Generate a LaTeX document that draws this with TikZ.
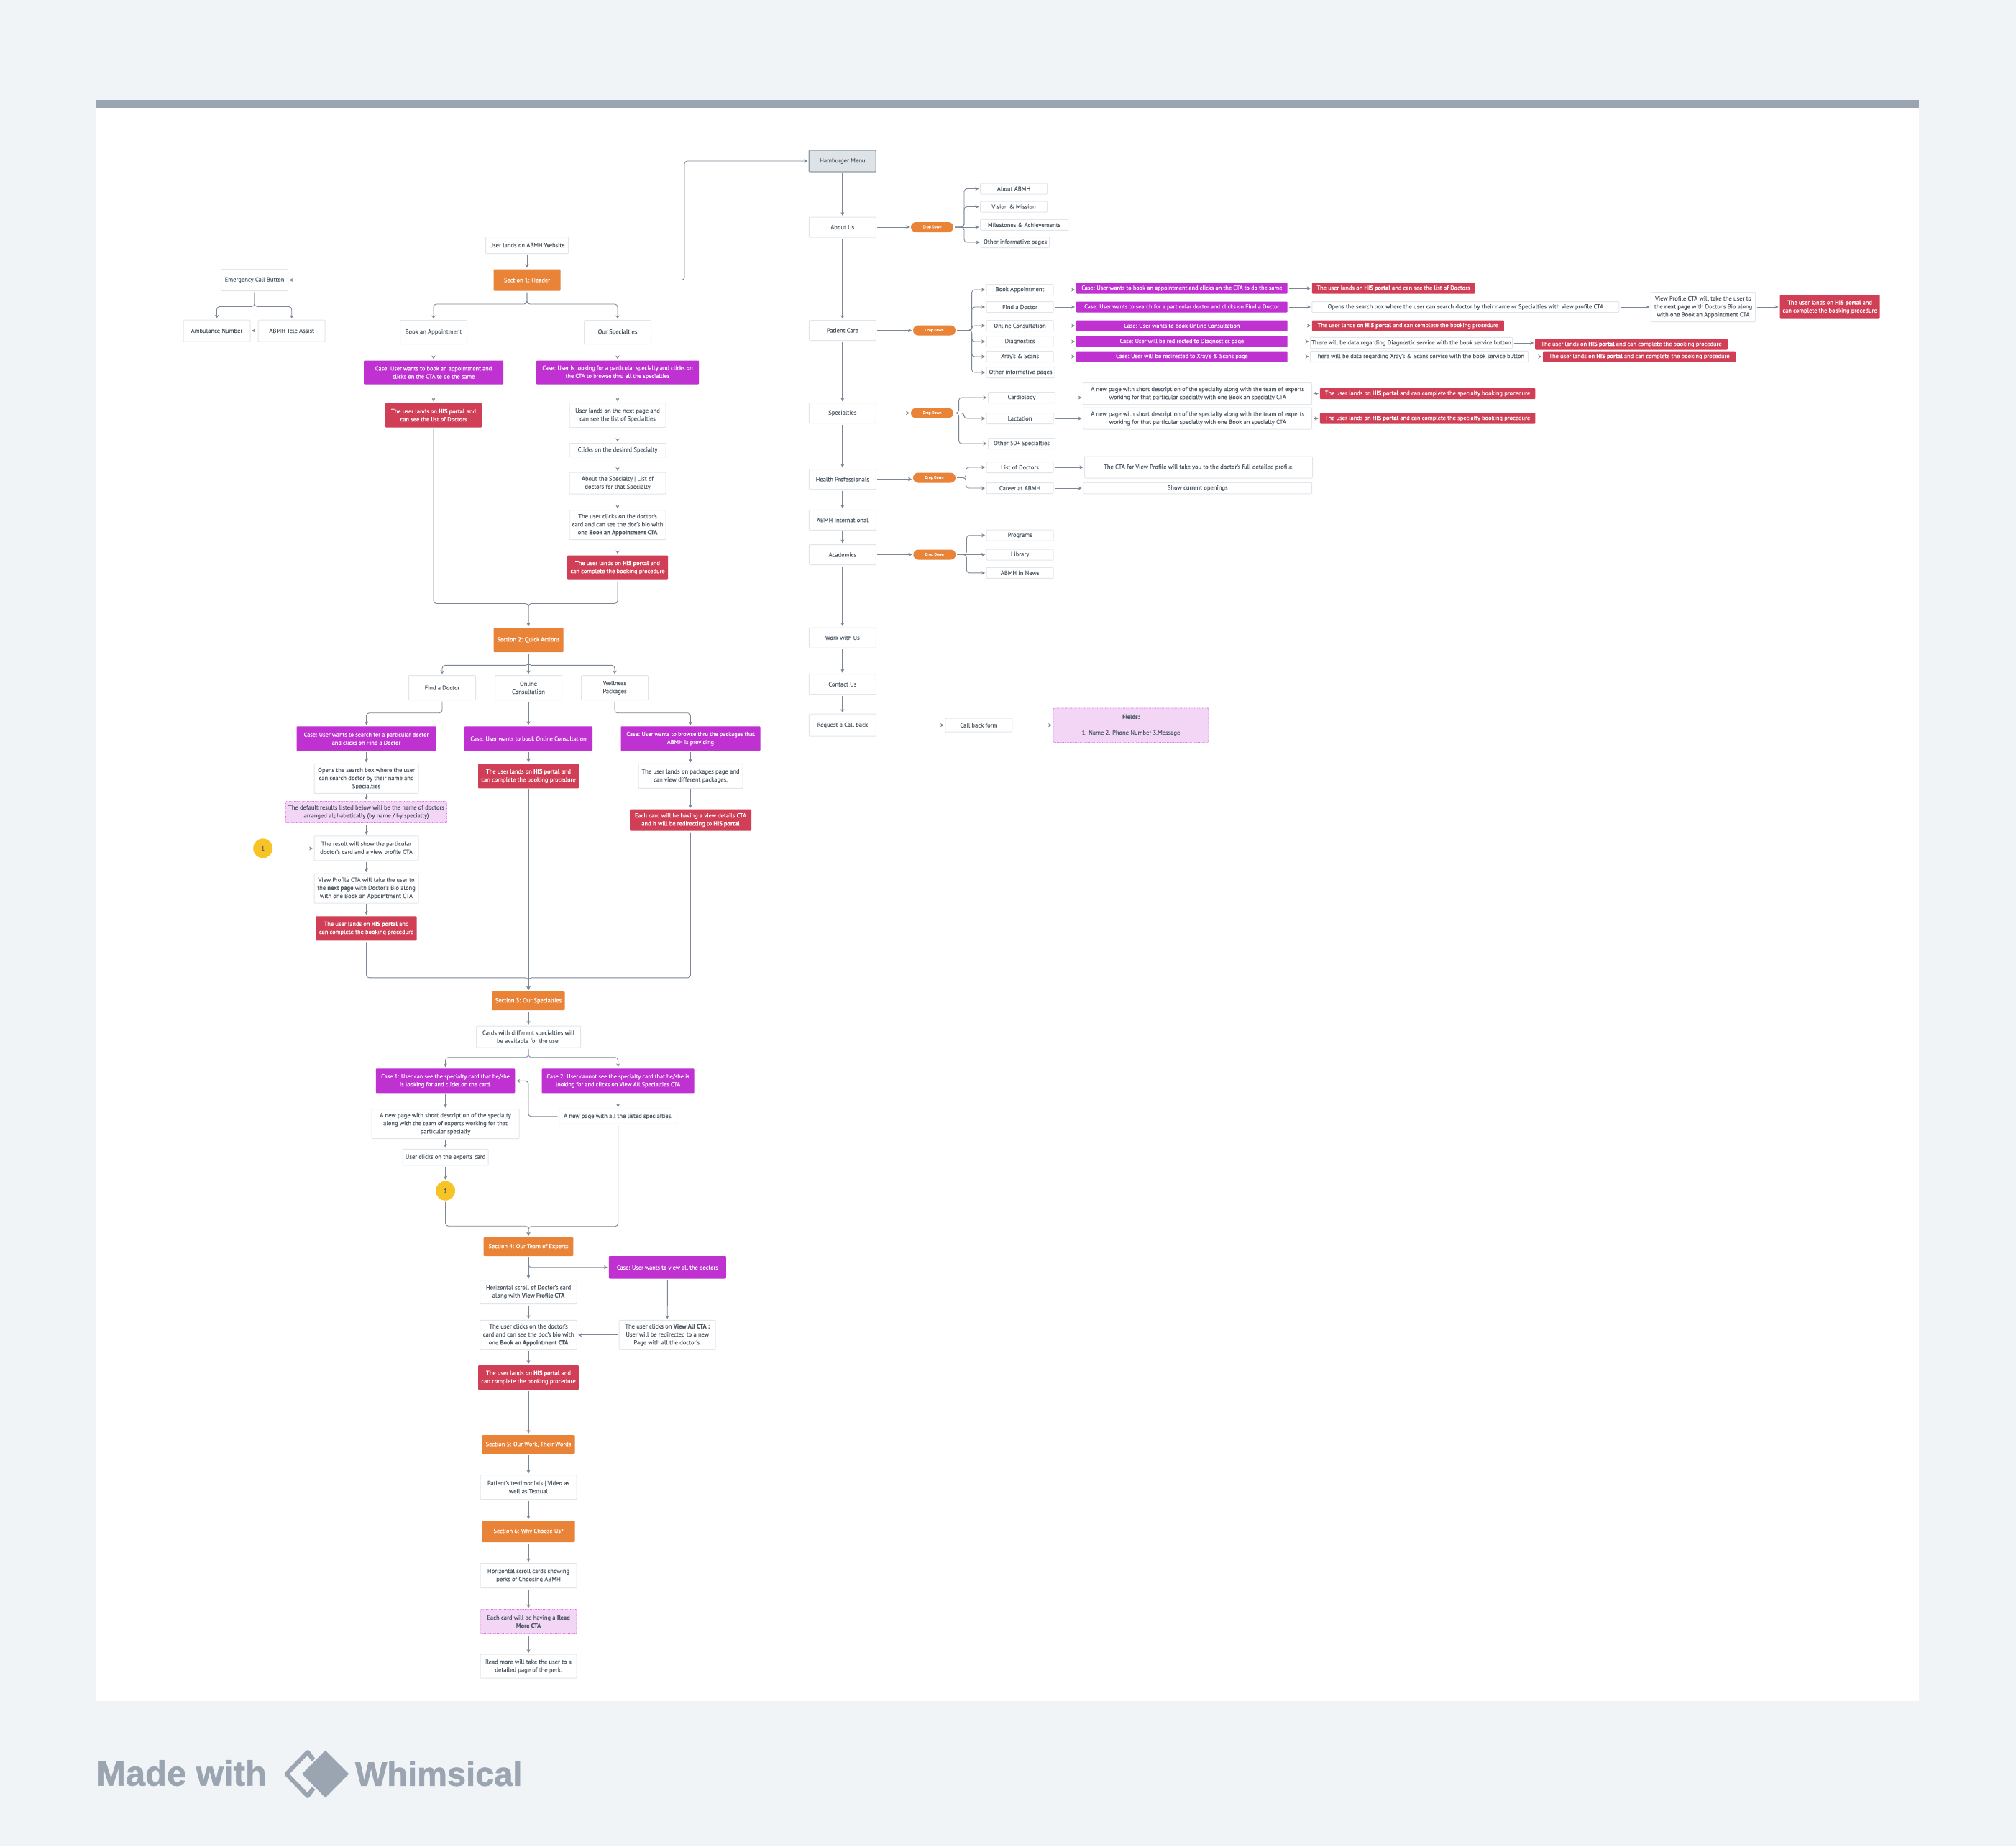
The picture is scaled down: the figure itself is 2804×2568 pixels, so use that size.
\documentclass[tikz,border=0pt]{standalone}
\usepackage{fontspec}
\setmainfont{PT Sans}[FakeBold=0.2]
\newfontfamily\medfont{PT Sans}[FakeBold=0.45]
\newfontfamily\logofont{Liberation Sans}[FakeBold=1.2]
\usetikzlibrary{positioning,arrows.meta}
\definecolor{pagebg}{HTML}{F0F4F7}
\definecolor{barcol}{HTML}{9AA5B1}
\definecolor{ink}{HTML}{4F5B67}
\definecolor{edge}{HTML}{E2E6EB}
\definecolor{wire}{HTML}{7B8794}
\definecolor{orangecol}{HTML}{E88338}
\definecolor{purplecol}{HTML}{BF31D1}
\definecolor{redcol}{HTML}{D13F57}
\definecolor{pinkcol}{HTML}{F3D6F6}
\definecolor{pinkedge}{HTML}{E064E9}
\definecolor{suncol}{HTML}{F7C325}
\definecolor{steelcol}{HTML}{DDE3E6}
\definecolor{steeledge}{HTML}{8E9CA8}
\tikzset{
  every node/.style={
    rounded corners=1pt,
    align=center,
    inner sep=0pt,
    outer sep=2pt,
    text=ink,
    font=\fontsize{8.5}{11.2}\selectfont
  },
  wbox/.style 2 args={draw=edge, line width=1pt, fill=white, minimum width=#1pt, minimum height=#2pt},
  sectbox/.style 2 args={fill=orangecol, text=white, font=\medfont\fontsize{8.4}{11.2}\selectfont, minimum width=#1pt, minimum height=#2pt},
  casebox/.style 2 args={fill=purplecol, text=white, font=\medfont\fontsize{8.25}{11.2}\selectfont, minimum width=#1pt, minimum height=#2pt},
  redbox/.style 2 args={fill=redcol, text=white, font=\medfont\fontsize{8.4}{11.2}\selectfont, minimum width=#1pt, minimum height=#2pt},
  notebox/.style 2 args={draw=pinkedge, densely dotted, line width=0.8pt, fill=pinkcol, minimum width=#1pt, minimum height=#2pt},
  menubox/.style 2 args={draw=steeledge, line width=1.2pt, fill=steelcol, minimum width=#1pt, minimum height=#2pt},
  dropbox/.style={fill=orangecol, text=white, rounded corners=7pt, minimum width=59pt, minimum height=14pt, font=\medfont\fontsize{5.4}{7}\selectfont},
  refdot/.style={circle, fill=suncol, minimum size=27pt},
  link/.style={draw=wire, line width=0.9pt, rounded corners=4pt, -{Stealth[length=5pt,width=5pt]}}
}
\begin{document}
\begin{tikzpicture}
        \useasboundingbox (0,0) rectangle (2804pt,-2568pt);
        \fill [pagebg] (0,0) rectangle (2804pt,-2568pt);
        \fill [white] (134pt,-139pt) rectangle (2669pt,-2366pt);
        \fill [barcol] (134pt,-139pt) rectangle (2669pt,-150pt);

        \node [wbox={115}{23}] (ULands) at (733pt,-341pt) {User lands on ABMH Website};
        \node [on grid, below=48.5pt of ULands, sectbox={93}{30}] (Sec1) {Section 1: Header};
        \node [on grid, left=379pt of Sec1, wbox={93}{30}] (Emerg) {Emergency Call Button};
        \node [on grid, below left=70.5pt and 52.5pt of Emerg, wbox={93}{30}] (Amb) {Ambulance Number};
        \node [on grid, below right=70.5pt and 51.7pt of Emerg, wbox={93}{30}] (Tele) {ABMH Tele Assist};
        \node [on grid, below left=72.5pt and 130pt of Sec1, wbox={93}{33}] (Book) {Book an Appointment};
        \node [on grid, below right=72.5pt and 126pt of Sec1, wbox={93}{33}] (OurSpec) {Our Specialties};
        \node [on grid, below=56pt of Book, casebox={194}{33}] (CaseBook) {Case: User wants to book an appointment and\\clicks on the CTA to do the same};
        \node [on grid, below=59.5pt of CaseBook, redbox={134}{34}] (RedBook) {The user lands on \textbf{HIS portal} and\\can see the list of Doctors};
        \node [on grid, below=56pt of OurSpec, casebox={226}{33}] (CaseSpec) {Case: User is looking for a particular specialty and clicks on\\the CTA to browse thru all the specialties};
        \node [on grid, below=59.5pt of CaseSpec, wbox={134}{34}] (NextPage) {User lands on the next page and\\can see the list of Specialties};
        \node [on grid, below=48.5pt of NextPage, wbox={134}{19}] (Clicks) {Clicks on the desired Specialty};
        \node [on grid, below=46pt of Clicks, wbox={134}{30}] (AboutSpec) {About the Specialty | List of\\doctors for that Specialty};
        \node [on grid, below=58pt of AboutSpec, wbox={134}{41}] (DocCard) {The user clicks on the doctor's\\card and can see the doc's bio with\\one \textbf{Book an Appointment CTA}};
        \node [on grid, below=59.5pt of DocCard, redbox={140}{34}] (RedSpec) {The user lands on \textbf{HIS portal} and\\can complete the booking procedure};
        \draw [link] (ULands) -- (Sec1);
        \draw [link] (Sec1) -- (Emerg);
        \draw [link] (Emerg.south) -- ++(0,-20pt) -| (Amb.north);
        \draw [link] (Emerg.south) -- ++(0,-20pt) -| (Tele.north);
        \draw [link] (Tele) -- (Amb);
        \draw [link] (Sec1.south) -- ++(0,-16.5pt) -| (Book.north);
        \draw [link] (Sec1.south) -- ++(0,-16.5pt) -| (OurSpec.north);
        \draw [link] (Book) -- (CaseBook);
        \draw [link] (CaseBook) -- (RedBook);
        \draw [link] (OurSpec) -- (CaseSpec);
        \draw [link] (CaseSpec) -- (NextPage);
        \draw [link] (NextPage) -- (Clicks);
        \draw [link] (Clicks) -- (AboutSpec);
        \draw [link] (AboutSpec) -- (DocCard);
        \draw [link] (DocCard) -- (RedSpec);

        \node [on grid, below right=500.5pt and 2pt of Sec1, sectbox={97}{34}] (Sec2) {Section 2: Quick Actions};
        \node [on grid, below left=66.5pt and 120pt of Sec2, wbox={93}{34}] (Find) {Find a Doctor};
        \node [on grid, below=66.5pt of Sec2, wbox={93}{34}] (Online) {Online\\Consultation};
        \node [on grid, below right=66.5pt and 120pt of Sec2, wbox={93}{34}] (Wellness) {Wellness\\Packages};
        \node [on grid, below left=70.8pt and 105.5pt of Find, casebox={194}{34}] (CaseFind) {Case: User wants to search for a particular doctor\\and clicks on Find a Doctor};
        \node [on grid, below=70.8pt of Online, casebox={178}{34}] (CaseOnline) {Case: User wants to book Online Consultation};
        \node [on grid, below right=70.8pt and 105.5pt of Wellness, casebox={194}{34}] (CaseWell) {Case: User wants to browse thru the packages that\\ABMH is providing};
        \node [on grid, below=55.6pt of CaseFind, wbox={145}{41}] (Opens) {Opens the search box where the user\\can search doctor by their name and\\Specialties};
        \node [on grid, below=46.6pt of Opens, notebox={224}{30}] (Default) {The default results listed below will be the name of doctors\\arranged alphabetically (by name / by specialty)};
        \node [on grid, below=50.4pt of Default, wbox={145}{34}] (Result) {The result will show the particular\\doctor's card and a view profile CTA};
        \node [on grid, left=143.8pt of Result, refdot] (DotOne) {1};
        \node [on grid, below=55.7pt of Result, wbox={145}{41}] (ViewProf) {View Profile CTA will take the user to\\the \textbf{next page} with Doctor's Bio along\\with one Book an Appointment CTA};
        \node [on grid, below=55.7pt of ViewProf, redbox={140}{34}] (RedFind) {The user lands on \textbf{HIS portal} and\\can complete the booking procedure};
        \node [on grid, below=52.1pt of CaseOnline, redbox={140}{34}] (RedOnline) {The user lands on \textbf{HIS portal} and\\can complete the booking procedure};
        \node [on grid, below=52.1pt of CaseWell, wbox={145}{34}] (Packages) {The user lands on packages page and\\can view different packages.};
        \node [on grid, below=61.2pt of Packages, redbox={169}{30}] (RedWell) {Each card will be having a view details CTA\\and it will be redirecting to \textbf{HIS portal}};
        \draw [link] (RedBook.south) -- ++(0,-243pt) -| (Sec2.north);
        \draw [link] (RedSpec.south) -- ++(0,-31pt) -| (Sec2.north);
        \draw [link] (Sec2.south) -- ++(0,-16.4pt) -| (Find.north);
        \draw [link] (Sec2) -- (Online);
        \draw [link] (Sec2.south) -- ++(0,-16.4pt) -| (Wellness.north);
        \draw [link] (Find.south) -- ++(0,-16.2pt) -| (CaseFind.north);
        \draw [link] (Online) -- (CaseOnline);
        \draw [link] (Wellness.south) -- ++(0,-16.2pt) -| (CaseWell.north);
        \draw [link] (CaseFind) -- (Opens);
        \draw [link] (Opens) -- (Default);
        \draw [link] (Default) -- (Result);
        \draw [link] (DotOne) -- (Result);
        \draw [link] (Result) -- (ViewProf);
        \draw [link] (ViewProf) -- (RedFind);
        \draw [link] (CaseOnline) -- (RedOnline);
        \draw [link] (CaseWell) -- (Packages);
        \draw [link] (Packages) -- (RedWell);

        \node [on grid, below=502pt of Sec2, sectbox={101}{26}] (Sec3) {Section 3: Our Specialties};
        \node [on grid, below=50pt of Sec3, wbox={145}{30}] (Cards) {Cards with different specialties will\\be available for the user};
        \node [on grid, below left=61.4pt and 115.5pt of Cards, casebox={193.5}{34}] (CaseOne) {Case 1: User can see the specialty card that he/she\\is looking for and clicks on the card.};
        \node [on grid, below right=61.4pt and 124.6pt of Cards, casebox={212}{34}] (CaseTwo) {Case 2: User cannot see the specialty card that he/she is\\looking for and clicks on View All Specialties CTA};
        \node [on grid, below=59.6pt of CaseOne, wbox={205}{41}] (NewPage) {A new page with short description of the specialty\\along with the team of experts working for that\\particular specialty};
        \node [on grid, below=49.4pt of CaseTwo, wbox={164}{21}] (AllSpec) {A new page with all the listed specialties.};
        \node [on grid, below=46.5pt of NewPage, wbox={119}{22.5}] (Experts) {User clicks on the experts card};
        \node [on grid, below=46.7pt of Experts, refdot] (DotTwo) {1};
        \draw [link] (RedFind.south) -- ++(0,-49.6pt) -| (Sec3.north);
        \draw [link] (RedOnline) -- (Sec3);
        \draw [link] (RedWell.south) -- ++(0,-202.3pt) -| (Sec3.north);
        \draw [link] (Sec3) -- (Cards);
        \draw [link] (Cards.south) -- ++(0,-11.7pt) -| (CaseOne.north);
        \draw [link] (Cards.south) -- ++(0,-11.7pt) -| (CaseTwo.north);
        \draw [link] (CaseOne) -- (NewPage);
        \draw [link] (CaseTwo) -- (AllSpec);
        \draw [link] (AllSpec.west) -- ++(-40.8pt,0) |- (CaseOne.east);
        \draw [link] (NewPage) -- (Experts);
        \draw [link] (Experts) -- (DotTwo);

        \node [on grid, below=342pt of Sec3, sectbox={124.6}{26}] (Sec4) {Section 4: Our Team of Experts};
        \node [on grid, below right=28.8pt and 193.4pt of Sec4, casebox={163}{31.5}] (CaseAll) {Case: User wants to view all the doctors};
        \node [on grid, below=63pt of Sec4, wbox={134.6}{33}] (Scroll) {Horizontal scroll of Doctor's card\\along with \textbf{View Profile CTA}};
        \node [on grid, below=59.8pt of Scroll, wbox={134.6}{41}] (TeamCard) {The user clicks on the doctor's\\card and can see the doc's bio with\\one \textbf{Book an Appointment CTA}};
        \node [on grid, right=193.2pt of TeamCard, wbox={134}{41}] (ViewAll) {The user clicks on \textbf{View All CTA :}\\User will be redirected to a new\\Page with all the doctor's.};
        \node [on grid, below=59.2pt of TeamCard, redbox={140}{34}] (RedTeam) {The user lands on \textbf{HIS portal} and\\can complete the booking procedure};
        \node [on grid, below=93pt of RedTeam, sectbox={129}{26}] (Sec5) {Section 5: Our Work, Their Words};
        \node [on grid, below=59.5pt of Sec5, wbox={134}{34}] (Testi) {Patient's testimonials | Video as\\well as Textual};
        \node [on grid, below=61.5pt of Testi, sectbox={129}{30}] (Sec6) {Section 6: Why Choose Us?};
        \node [on grid, below=61.5pt of Sec6, wbox={134}{34}] (Perks) {Horizontal scroll cards showing\\perks of Choosing ABMH};
        \node [on grid, below=64pt of Perks, notebox={134}{34}] (ReadCTA) {Each card will be having a \textbf{Read}\\\textbf{More CTA}};
        \node [on grid, below=62.2pt of ReadCTA, wbox={134}{33}] (ReadMore) {Read more will take the user to a\\detailed page of the perk.};
        \draw [link] (DotTwo.south) -- ++(0,-33.5pt) -| (Sec4.north);
        \draw [link] (AllSpec.south) -- ++(0,-140.4pt) -| (Sec4.north);
        \draw [link] (Sec4) -- (Scroll);
        \draw [link] (Sec4.south) |- (CaseAll.west);
        \draw [link] (CaseAll) -- (ViewAll);
        \draw [link] (Scroll) -- (TeamCard);
        \draw [link] (ViewAll) -- (TeamCard);
        \draw [link] (TeamCard) -- (RedTeam);
        \draw [link] (RedTeam) -- (Sec5);
        \draw [link] (Sec5) -- (Testi);
        \draw [link] (Testi) -- (Sec6);
        \draw [link] (Sec6) -- (Perks);
        \draw [link] (Perks) -- (ReadCTA);
        \draw [link] (ReadCTA) -- (ReadMore);

        \node [menubox={93}{30}] (Hamb) at (1171.8pt,-224pt) {Hamburger Menu};
        \node [on grid, below=92pt of Hamb, wbox={93}{28}] (AboutUs) {About Us};
        \node [on grid, below=143.5pt of AboutUs, wbox={93}{28}] (Patient) {Patient Care};
        \node [on grid, below=115pt of Patient, wbox={93}{28}] (Special) {Specialties};
        \node [on grid, below=92pt of Special, wbox={93}{28}] (Health) {Health Professionals};
        \node [on grid, below=56.8pt of Health, wbox={93}{28}] (Intl) {ABMH International};
        \node [on grid, below=48.2pt of Intl, wbox={93}{28}] (Acad) {Academics};
        \node [on grid, below=115.5pt of Acad, wbox={93}{28}] (Work) {Work with Us};
        \node [on grid, below=64.7pt of Work, wbox={93}{28}] (Contact) {Contact Us};
        \node [on grid, below=57pt of Contact, wbox={93}{31}] (Request) {Request a Call back};
        \node [on grid, right=189.6pt of Request, wbox={93}{19}] (CallForm) {Call back form};
        \node [on grid, right=211.6pt of CallForm, notebox={216}{47.5}] (Fields) {\textbf{Fields:}\\[11pt]1. Name 2. Phone Number 3.Message};
        \draw [link] (Sec1.east) -- ++(170.5pt,0) |- (Hamb.west);
        \draw [link] (Hamb) -- (AboutUs);
        \draw [link] (AboutUs) -- (Patient);
        \draw [link] (Patient) -- (Special);
        \draw [link] (Special) -- (Health);
        \draw [link] (Health) -- (Intl);
        \draw [link] (Intl) -- (Acad);
        \draw [link] (Acad) -- (Work);
        \draw [link] (Work) -- (Contact);
        \draw [link] (Contact) -- (Request);
        \draw [link] (Request) -- (CallForm);
        \draw [link] (CallForm) -- (Fields);

        \node [on grid, right=124.7pt of AboutUs, dropbox] (DropA) {Drop Down};
        \node [on grid, above right=53.5pt and 113.5pt of DropA, wbox={93}{15}] (AboutAbmh) {About ABMH};
        \node [on grid, below=25pt of AboutAbmh, wbox={93}{15}] (Vision) {Vision \& Mission};
        \node [on grid, below right=25.3pt and 14.5pt of Vision, wbox={122}{15}] (Miles) {Milestones \& Achievements};
        \node [on grid, below left=24.2pt and 12.5pt of Miles, wbox={95}{15}] (InfoA) {Other informative pages};
        \draw [link] (AboutUs) -- (DropA);
        \draw [link] (DropA.east) -- ++(13pt,0) |- (AboutAbmh.west);
        \draw [link] (DropA.east) -- ++(13pt,0) |- (Vision.west);
        \draw [link] (DropA.east) -- (DropA.east -| Miles.west);
        \draw [link] (DropA.east) -- ++(13pt,0) |- (InfoA.west);

        \node [on grid, right=127.7pt of Patient, dropbox] (DropB) {Drop Down};
        \node [on grid, above right=56.5pt and 119pt of DropB, wbox={93}{15}] (PBook) {Book Appointment};
        \node [on grid, below=24pt of PBook, wbox={93}{15}] (PFind) {Find a Doctor};
        \node [on grid, below=26pt of PFind, wbox={93}{15}] (POnline) {Online Consultation};
        \node [on grid, below=22pt of POnline, wbox={93}{15}] (PDiag) {Diagnostics};
        \node [on grid, below=21pt of PDiag, wbox={93}{15}] (PXray) {Xray's \& Scans};
        \node [on grid, below right=22pt and 1pt of PXray, wbox={95}{15}] (InfoB) {Other informative pages};
        \node [on grid, above right=2pt and 225.3pt of PBook, casebox={293.7}{15}] (CBook) {Case: User wants to book an appointment and clicks on the CTA to do the same};
        \node [on grid, right=225.3pt of PFind, casebox={293.7}{15}] (CFind) {Case: User wants to search for a particular doctor and clicks on Find a Doctor};
        \node [on grid, right=225.3pt of POnline, casebox={293.7}{15}] (COnline) {Case: User wants to book Online Consultation};
        \node [on grid, right=225.3pt of PDiag, casebox={293.7}{15}] (CDiag) {Case: User will be redirected to Diagnostics page};
        \node [on grid, right=225.3pt of PXray, casebox={293.7}{15}] (CXray) {Case: User will be redirected to Xray's \& Scans page};
        \node [on grid, right=294.2pt of CBook, redbox={226.5}{15}] (RBook) {The user lands on \textbf{HIS portal} and can see the list of Doctors};
        \node [on grid, right=394.6pt of CFind, wbox={427}{15}] (OpensB) {Opens the search box where the user can search doctor by their name or Specialties with view profile CTA};
        \node [on grid, right=330.6pt of OpensB, wbox={145.4}{41}] (ProfB) {View Profile CTA will take the user to\\the \textbf{next page} with Doctor's Bio along\\with one Book an Appointment CTA};
        \node [on grid, right=176pt of ProfB, redbox={139}{33}] (RProf) {The user lands on \textbf{HIS portal} and\\can complete the booking procedure};
        \node [on grid, right=314.5pt of COnline, redbox={267}{15}] (ROnline) {The user lands on \textbf{HIS portal} and can complete the booking procedure};
        \node [on grid, below right=2pt and 319.2pt of CDiag, wbox={281}{15.4}] (TDiag) {There will be data regarding Diagnostic service with the book service button};
        \node [on grid, right=330.2pt of CXray, wbox={303}{15.4}] (TXray) {There will be data regarding Xray's \& Scans service with the book service button};
        \node [on grid, below right=2pt and 306pt of TDiag, redbox={267.6}{15}] (RDiag) {The user lands on \textbf{HIS portal} and can complete the booking procedure};
        \node [on grid, right=306pt of TXray, redbox={267.6}{15}] (RXray) {The user lands on \textbf{HIS portal} and can complete the booking procedure};
        \draw [link] (Patient) -- (DropB);
        \draw [link] (DropB.east) -- ++(20.6pt,0) |- (PBook.west);
        \draw [link] (DropB.east) -- ++(20.6pt,0) |- (PFind.west);
        \draw [link] (DropB.east) -- ++(20.6pt,0) |- (POnline.west);
        \draw [link] (DropB.east) -- ++(20.6pt,0) |- (PDiag.west);
        \draw [link] (DropB.east) -- ++(20.6pt,0) |- (PXray.west);
        \draw [link] (DropB.east) -- ++(20.6pt,0) |- (InfoB.west);
        \draw [link] (PBook) -- (PBook -| CBook.west);
        \draw [link] (PFind) -- (CFind);
        \draw [link] (POnline) -- (COnline);
        \draw [link] (PDiag) -- (CDiag);
        \draw [link] (PXray) -- (CXray);
        \draw [link] (CBook) -- (RBook);
        \draw [link] (CFind) -- (OpensB);
        \draw [link] (OpensB) -- (ProfB);
        \draw [link] (ProfB) -- (RProf);
        \draw [link] (COnline) -- (ROnline);
        \draw [link] (CDiag) -- (CDiag -| TDiag.west);
        \draw [link] (CXray) -- (TXray);
        \draw [link] (TDiag) -- (TDiag -| RDiag.west);
        \draw [link] (TXray) -- (RXray);

        \node [on grid, right=124.7pt of Special, dropbox] (DropC) {Drop Down};
        \node [on grid, above right=21.5pt and 124.5pt of DropC, wbox={93}{15}] (Cardio) {Cardiology};
        \node [on grid, below right=7.5pt and 122pt of DropC, wbox={93}{15}] (Lact) {Lactation};
        \node [on grid, below right=42.5pt and 124.5pt of DropC, wbox={93}{15}] (More) {Other 50+ Specialties};
        \node [on grid, above right=5.5pt and 244.7pt of Cardio, wbox={318}{30}] (DescA) {A new page with short description of the specialty along with the team of experts\\working for that particular specialty with one Book an specialty CTA};
        \node [on grid, right=247.2pt of Lact, wbox={318}{30}] (DescB) {A new page with short description of the specialty along with the team of experts\\working for that particular specialty with one Book an specialty CTA};
        \node [on grid, right=319.8pt of DescA, redbox={299.5}{15}] (RedA) {The user lands on \textbf{HIS portal} and can complete the specialty booking procedure};
        \node [on grid, right=319.8pt of DescB, redbox={299.5}{15}] (RedB) {The user lands on \textbf{HIS portal} and can complete the specialty booking procedure};
        \draw [link] (Special) -- (DropC);
        \draw [link] (DropC.east) -- ++(5.6pt,0) |- (Cardio.west);
        \draw [link] (DropC.east) -- ++(13pt,0) |- (Lact.west);
        \draw [link] (DropC.east) -- ++(5.6pt,0) |- (More.west);
        \draw [link] (Cardio) -- (Cardio -| DescA.west);
        \draw [link] (Lact) -- (DescB);
        \draw [link] (DescA) -- (RedA);
        \draw [link] (DescB) -- (RedB);

        \node [on grid, above right=2pt and 127.7pt of Health, dropbox] (DropD) {Drop Down};
        \node [on grid, above right=14.5pt and 119pt of DropD, wbox={93}{15}] (ListDoc) {List of Doctors};
        \node [on grid, below right=14.5pt and 119pt of DropD, wbox={93}{15}] (Career) {Career at ABMH};
        \node [on grid, right=248.5pt of ListDoc, wbox={317}{30}] (ProfCta) {The CTA for View Profile will take you to the doctor's full detailed profile.};
        \node [on grid, right=247.2pt of Career, wbox={318}{15.5}] (Openings) {Show current openings};
        \draw [link] (Health) -- (Health -| DropD.west);
        \draw [link] (DropD.east) -- ++(12.5pt,0) |- (ListDoc.west);
        \draw [link] (DropD.east) -- ++(12.5pt,0) |- (Career.west);
        \draw [link] (ListDoc) -- (ProfCta);
        \draw [link] (Career) -- (Openings);

        \node [on grid, right=128pt of Acad, dropbox] (DropE) {Drop Down};
        \node [on grid, above right=26.8pt and 118.8pt of DropE, wbox={93}{15}] (Programs) {Programs};
        \node [on grid, right=118.8pt of DropE, wbox={93}{15}] (Library) {Library};
        \node [on grid, below right=25.3pt and 118.8pt of DropE, wbox={93}{15}] (News) {ABMH in News};
        \draw [link] (Acad) -- (DropE);
        \draw [link] (DropE.east) -- ++(13pt,0) |- (Programs.west);
        \draw [link] (DropE) -- (Library);
        \draw [link] (DropE.east) -- ++(13pt,0) |- (News.west);

        \node [anchor=west, text=barcol, font=\logofont\bfseries\fontsize{49}{49}\selectfont, outer sep=0pt] (MadeWith) at (134pt,-2466pt) {Made with};
        \draw [barcol, line width=6pt, line join=round, line cap=round] (436pt,-2448pt) -- (428pt,-2437pt) -- (398.5pt,-2467.3pt) -- (428pt,-2498pt) -- (436pt,-2487pt);
        \fill [barcol, draw=pagebg, line width=2pt, line join=round] (452.5pt,-2433pt) -- (487pt,-2467.3pt) -- (452.5pt,-2502pt) -- (418.5pt,-2467.3pt) -- cycle;
        \node [anchor=west, text=barcol, font=\logofont\bfseries\fontsize{47}{47}\selectfont, outer sep=0pt] (Whim) at (494pt,-2467pt) {Whimsical};
\end{tikzpicture}
\end{document}
